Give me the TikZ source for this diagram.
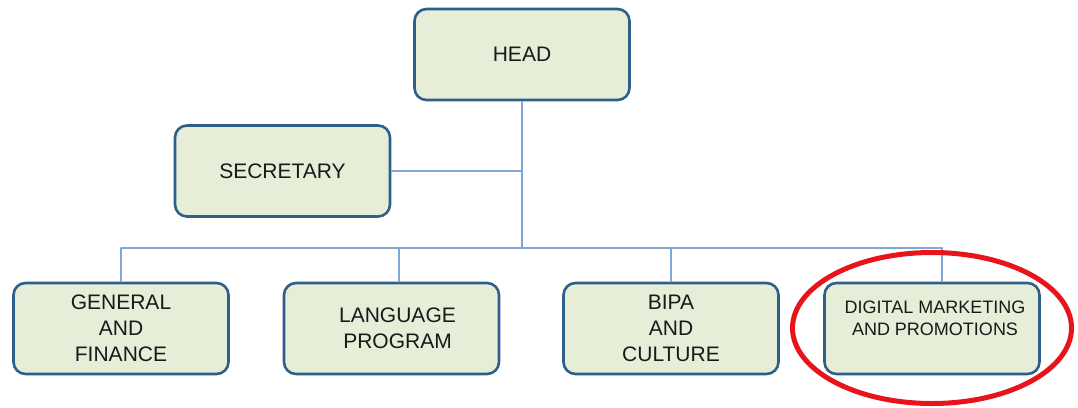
\documentclass[tikz,border=0pt]{standalone}
\usepackage{fontspec}
\setmainfont{Liberation Sans}
\definecolor{boxfill}{HTML}{E6EED8}
\definecolor{boxline}{HTML}{2E5F8A}
\definecolor{wirecol}{HTML}{7EA9D6}
\definecolor{ringcol}{HTML}{E8141B}
\begin{document}
\begin{tikzpicture}[line join=round, line cap=round, x=1pt, y=-1pt]
	\tikzset{unit/.style={draw=boxline, fill=boxfill, line width=2.6pt, rounded corners=12pt, minimum width=215pt, minimum height=91pt, inner sep=0pt, align=center, font=\fontsize{21}{26}\selectfont, text=black!90}}
	\tikzset{wire/.style={draw=wirecol, line width=1.3pt}}
	\useasboundingbox (0,0) rectangle (1078,407);
	\node[unit] (head) at (522,54.5) {HEAD};
	\node[unit] (sec) at (282.5,171) {SECRETARY};
	\node[unit] (gen) at (121,328.5) {GENERAL\\AND\\FINANCE};
	\node[unit] (lang) at (391.5,328.5) {\hspace*{12pt}LANGUAGE\\\hspace*{12pt}PROGRAM};
	\node[unit] (bipa) at (671,328.5) {BIPA\\AND\\CULTURE};
	\node[unit] (dmp) at (932,328.5) {};
	\node[font=\fontsize{18}{22}\selectfont, align=center, text=black!90] (dmplbl) at (935,318) {DIGITAL MARKETING\\AND PROMOTIONS};
	% bus line
	\coordinate (b1) at (121,248);
	\coordinate (b2) at (399,248);
	\coordinate (b3) at (671,248);
	\coordinate (b4) at (942,248);
	\draw[wire] (head.south) -- (head.south |- b1);
	\draw[wire] (sec.east) -- (sec.east -| head.south);
	\draw[wire] (b1) -- (b4);
	\foreach \b/\n in {b1/gen,b2/lang,b3/bipa,b4/dmp}
		\draw[wire] (\b) -- (\b |- \n.north);
	\draw[ringcol, line width=5pt] (932,328) ellipse [x radius=139.5, y radius=75.5];
\end{tikzpicture}
\end{document}
